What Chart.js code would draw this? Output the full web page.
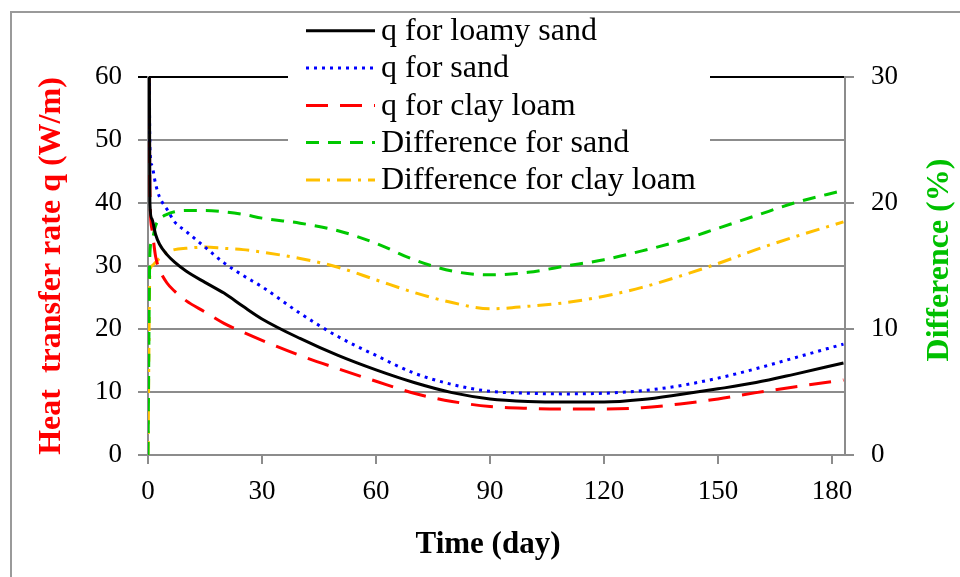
<!DOCTYPE html>
<html>
<head>
<meta charset="utf-8">
<title>Heat transfer rate</title>
<script src="https://cdn.jsdelivr.net/npm/chart.js@4.4.1/dist/chart.umd.min.js"></script>
<style>
    html, body { margin: 0; padding: 0; background: #fff; }
    #contenedor { width: 960px; height: 577px; }
</style>
</head>
<body>
<div id="contenedor"><canvas id="graficoCalor" width="960" height="577"></canvas></div>
<script>
const dias = [0, 0.5, 1, 2, 3, 5, 7, 10, 15, 20, 25, 30, 40, 50, 60, 70, 80, 90, 100, 110, 120, 130, 140, 150, 160, 170, 183];

// q (W/m) - eje izquierdo
const qArenaFranca = [120, 40, 37.5, 35, 33.5, 31.8, 30.6, 29.2, 27.4, 25.7, 23.6, 21.6, 18.5, 15.8, 13.5, 11.5, 9.9, 8.9, 8.5, 8.4, 8.4, 8.8, 9.6, 10.5, 11.5, 12.8, 14.6];
const qArena = [120, 49, 46, 43, 41, 39, 37, 35.5, 33, 30.5, 28.5, 26.7, 22.5, 18.8, 15.8, 13, 11.2, 10.1, 9.8, 9.7, 9.8, 10.2, 11, 12.2, 13.7, 15.4, 17.6];
const qFrancoArcilloso = [120, 42, 36, 31.5, 29.5, 27.3, 26, 24.5, 22.7, 20.9, 19.5, 18.2, 15.8, 13.7, 11.7, 9.8, 8.5, 7.7, 7.4, 7.3, 7.3, 7.5, 8.1, 8.9, 9.9, 10.8, 11.9];

// Diferencia (%) - eje derecho
const difArena = [0, 16, 17, 18.2, 18.7, 19.1, 19.3, 19.4, 19.4, 19.3, 19.1, 18.8, 18.4, 17.8, 16.8, 15.5, 14.6, 14.3, 14.5, 15, 15.5, 16.2, 17, 18, 19, 20, 21];
const difFrancoArcilloso = [0, 14.5, 15, 15.3, 15.6, 16.1, 16.3, 16.4, 16.5, 16.4, 16.3, 16.1, 15.6, 14.9, 13.9, 12.9, 12.1, 11.6, 11.8, 12.1, 12.6, 13.3, 14.2, 15.2, 16.3, 17.3, 18.5];

const etiquetasSerie = ['q for loamy sand', 'q for sand', 'q for clay loam', 'Difference for sand', 'Difference for clay loam'];

const fuente = '"Liberation Serif", "Times New Roman", serif';
const gris = '#8c8c8c';

function puntos(valores) {
    return dias.map((d, i) => ({ x: d, y: valores[i] }));
}

function serie(label, valores, color, guiones, eje) {
    return {
        label: label,
        data: puntos(valores),
        borderColor: color,
        backgroundColor: color,
        borderWidth: 3,
        borderDash: guiones,
        pointRadius: 0,
        cubicInterpolationMode: 'monotone',
        yAxisID: eje
    };
}

// Leyenda dentro del área superior, marco y títulos de ejes
const pluginExtras = {
    id: 'extras',
    afterDraw(chart) {
        const ctx = chart.ctx;
        ctx.save();

        // marco exterior
        ctx.strokeStyle = '#9a9a9a';
        ctx.lineWidth = 2;
        ctx.setLineDash([]);
        ctx.beginPath();
        ctx.moveTo(11, 577);
        ctx.lineTo(11, 12);
        ctx.lineTo(960, 12);
        ctx.stroke();

        // leyenda
        ctx.fillStyle = '#fff';
        ctx.fillRect(288, 14, 422, 184);
        const filas = [30.7, 68, 105.5, 142.5, 180];
        chart.data.datasets.forEach((ds, i) => {
            const y = filas[i];
            ctx.strokeStyle = ds.borderColor;
            ctx.lineWidth = 3;
            ctx.setLineDash(ds.borderDash);
            ctx.beginPath();
            ctx.moveTo(306, y);
            ctx.lineTo(375, y);
            ctx.stroke();
            ctx.fillStyle = '#000';
            ctx.font = '32px ' + fuente;
            ctx.textBaseline = 'middle';
            ctx.textAlign = 'left';
            ctx.fillText(ds.label, 381, y + 1);
        });
        ctx.setLineDash([]);

        // título del eje x
        ctx.fillStyle = '#000';
        ctx.font = 'bold 31px ' + fuente;
        ctx.textAlign = 'center';
        ctx.textBaseline = 'middle';
        ctx.fillText('Time (day)', 488, 545);

        // título del eje derecho
        ctx.translate(940, 260);
        ctx.rotate(-Math.PI / 2);
        ctx.fillStyle = '#00c000';
        ctx.font = 'bold 32px ' + fuente;
        ctx.fillText('Difference (%)', 0, 0);
        ctx.restore();
    }
};

const ctx = document.getElementById('graficoCalor').getContext('2d');
new Chart(ctx, {
    type: 'line',
    data: {
        datasets: [
            serie(etiquetasSerie[0], qArenaFranca, '#000000', [], 'y'),
            serie(etiquetasSerie[1], qArena, '#0000ff', [3, 5], 'y'),
            serie(etiquetasSerie[2], qFrancoArcilloso, '#ff0000', [22, 12], 'y'),
            serie(etiquetasSerie[3], difArena, '#00c800', [13, 9], 'y1'),
            serie(etiquetasSerie[4], difFrancoArcilloso, '#ffc000', [14, 7, 3, 7], 'y1')
        ]
    },
    options: {
        responsive: false,
        animation: false,
        devicePixelRatio: 1,
        layout: { padding: { top: 77, left: 0, right: 0, bottom: 0 } },
        plugins: {
            legend: { display: false },
            tooltip: { enabled: false }
        },
        scales: {
            x: {
                type: 'linear',
                position: 'bottom',
                min: 0,
                max: 183.4,
                afterFit: s => { s.height = 122; },
                ticks: {
                    stepSize: 30,
                    includeBounds: false,
                    color: '#000',
                    padding: 12,
                    maxRotation: 0,
                    font: { family: fuente, size: 27 }
                },
                grid: { drawOnChartArea: false, tickLength: 9, color: gris, lineWidth: 2 },
                border: { color: gris, width: 2 }
            },
            y: {
                position: 'left',
                min: 0,
                max: 60,
                afterFit: s => { s.width = 148; },
                ticks: {
                    stepSize: 10,
                    color: '#000',
                    padding: 16,
                    font: { family: fuente, size: 27 }
                },
                grid: {
                    tickLength: 10,
                    lineWidth: 2,
                    color: c => (c.tick && c.tick.value === 60 ? '#000' : gris)
                },
                border: { color: gris, width: 2 },
                title: {
                    display: true,
                    text: 'Heat  transfer rate q (W/m)',
                    color: '#ff0000',
                    font: { family: fuente, size: 32, weight: 'bold' },
                    padding: { top: 33, bottom: 0 }
                }
            },
            y1: {
                position: 'right',
                min: 0,
                max: 30,
                afterFit: s => { s.width = 115; },
                ticks: {
                    stepSize: 10,
                    color: '#000',
                    padding: 17,
                    font: { family: fuente, size: 27 }
                },
                grid: { drawOnChartArea: false, tickLength: 9, color: gris, lineWidth: 2 },
                border: { color: gris, width: 2 }
            }
        }
    },
    plugins: [pluginExtras]
});
</script>
</body>
</html>
